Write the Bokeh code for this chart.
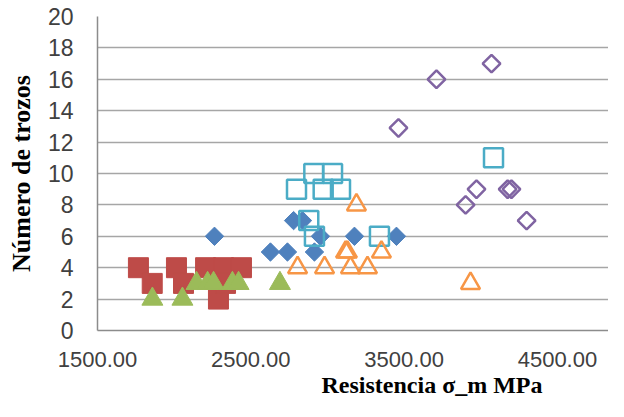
import math
from bokeh.plotting import figure
from bokeh.models import FixedTicker, PrintfTickFormatter, Range1d, Title
from bokeh.embed import file_html
from bokeh.resources import INLINE

# ---- data ----
blue_x = [2263, 2628, 2739, 2915, 2779, 2837, 2954, 3176, 3450]
blue_y = [6, 5, 5, 5, 7, 7, 6, 6, 6]

red_x = [1767, 1857, 2015, 2061, 2205, 2289, 2322, 2335, 2439]
red_y = [4, 3, 4, 3, 4, 2, 4, 3, 4]

green_x = [1858, 2054, 2146, 2218, 2257, 2380, 2420, 2690]
green_y = [2, 2, 3, 3, 3, 3, 3, 3]

purple_x = [3463, 3711, 4070, 3901, 3972, 4175, 4200, 4299]
purple_y = [12.9, 16, 17, 8, 9, 9, 9, 7]

teal_x = [2911, 3033, 2798, 2972, 3085, 2878, 2915, 3339, 4083]
teal_y = [10, 10, 9, 9, 9, 7, 6, 6, 11]

orange_x = [3189, 2805, 2981, 3118, 3130, 3150, 3261, 3352, 3933]
orange_y = [8, 4, 4, 5, 5, 4, 4, 5, 3]

x_ticks = [1500, 2500, 3500, 4500]
y_ticks = [0, 2, 4, 6, 8, 10, 12, 14, 16, 18, 20]

y_title = "Número de trozos"
x_title = "Resistencia σ_m MPa"

p = figure(width=608, height=401, output_backend="svg", toolbar_location=None,
           x_range=Range1d(1500, 4833), y_range=Range1d(0, 20),
           min_border_left=97, min_border_right=0, min_border_top=16,
           min_border_bottom=71)
p.outline_line_color = None
p.background_fill_color = "white"

# grid
p.xgrid.grid_line_color = None
p.ygrid.ticker = FixedTicker(ticks=y_ticks)
p.ygrid.grid_line_color = "#A6A6A6"
p.ygrid.grid_line_width = 1.5

# axes
tick_font = "Liberation Sans"
for ax in (p.xaxis[0], p.yaxis[0]):
    ax.axis_line_color = "#8C8C8C"
    ax.axis_line_width = 1.5
    ax.major_tick_line_color = None
    ax.minor_tick_line_color = None
    ax.major_tick_out = 0
    ax.major_tick_in = 0
    ax.major_label_text_font = tick_font
    ax.major_label_text_color = "#404040"

p.yaxis.major_label_text_font_size = "23px"
p.xaxis.major_label_text_font_size = "22px"

p.xaxis.ticker = FixedTicker(ticks=x_ticks)
p.xaxis.formatter = PrintfTickFormatter(format="%.2f")
p.xaxis.major_label_standoff = 21

p.yaxis.ticker = FixedTicker(ticks=y_ticks)
p.yaxis.major_label_standoff = 24
p.yaxis.axis_label = y_title
p.yaxis.axis_label_text_font = "Liberation Serif"
p.yaxis.axis_label_text_font_style = "bold"
p.yaxis.axis_label_text_color = "black"
p.yaxis.axis_label_text_font_size = "26px"
p.yaxis.axis_label_standoff = 9

# x-axis title, placed below the axis, shifted right as in the reference
p.add_layout(Title(text=x_title, align="left", offset=224, standoff=0,
                   text_font="Liberation Serif", text_font_style="bold",
                   text_font_size="24px", text_color="black"), "below")

# series (Excel order)
p.scatter(blue_x, blue_y, marker="square", size=13, angle=math.pi / 4,
          fill_color="#4F81BD", line_color="#4F81BD", line_width=1)
p.scatter(red_x, red_y, marker="square", size=20,
          fill_color="#BE4B48", line_color="#BE4B48", line_width=1)
p.scatter(green_x, green_y, marker="triangle", size=21,
          fill_color="#9BBB59", line_color="#9BBB59", line_width=1)
p.scatter(purple_x, purple_y, marker="square", size=12.5, angle=math.pi / 4,
          fill_color=None, line_color="#8064A2", line_width=2.5)
p.scatter(teal_x, teal_y, marker="square", size=19,
          fill_color=None, line_color="#4BACC6", line_width=2.5)
p.scatter(orange_x, orange_y, marker="triangle", size=19,
          fill_color=None, line_color="#F79646", line_width=2.5)

open("out.html", "w").write(file_html(p, INLINE))
